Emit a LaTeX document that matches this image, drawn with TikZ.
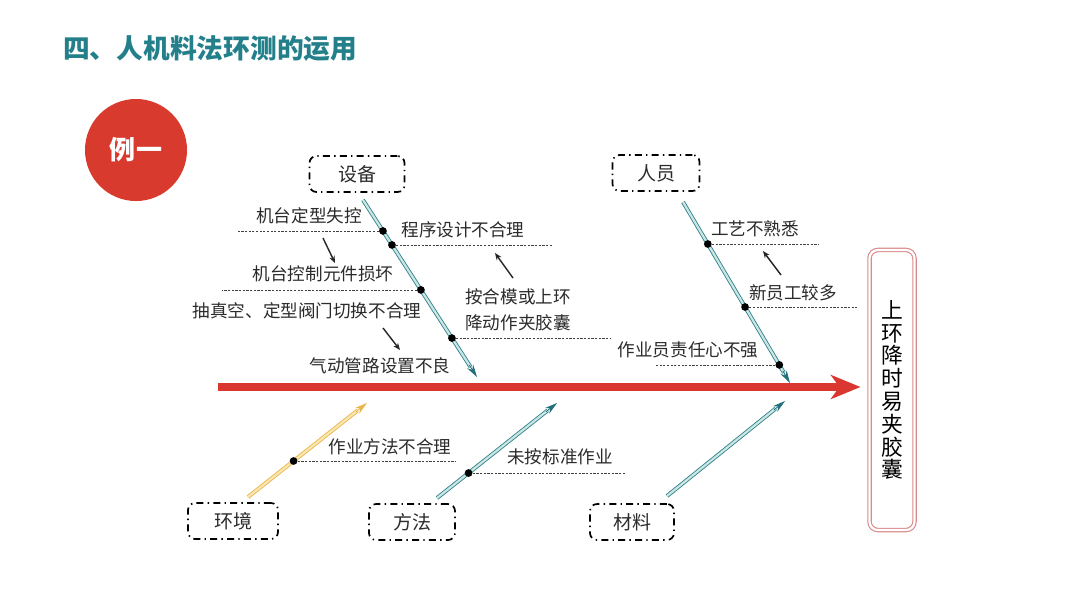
\documentclass[tikz,border=0pt]{standalone}
\usepackage{fontspec}
\setmainfont{Noto Sans CJK SC}
\usetikzlibrary{arrows.meta,calc}
\definecolor{titleteal}{HTML}{23808A}
\definecolor{spinered}{HTML}{D9372F}
\definecolor{circred}{HTML}{D93A2E}
\definecolor{boneteal}{HTML}{2E8088}
\definecolor{bonelight}{HTML}{C9E6E4}
\definecolor{tipteal}{HTML}{22707A}
\definecolor{boneyel}{HTML}{E8B548}
\definecolor{yellight}{HTML}{F9E6B0}
\definecolor{effpink}{HTML}{D98A8A}
\definecolor{txtgray}{HTML}{2B2B2B}
\begin{document}
\begin{tikzpicture}[x=0.025cm,y=-0.025cm,
  cat/.style={draw=black, line width=1.2pt, dash pattern=on 5pt off 3pt on 1pt off 3pt,
    rounded corners=5pt, minimum height=0.9cm, font=\fontsize{13.5}{16}\selectfont, text=txtgray},
  lbl/.style={font=\fontsize{12.5}{18.5}\selectfont, text=txtgray, inner sep=0pt},
  bone/.style={draw=boneteal, line width=0.6pt, double=bonelight, double distance=1.6pt, shorten >=0.3cm},
  boney/.style={draw=boneyel, line width=0.6pt, double=yellight, double distance=1.6pt, shorten >=0.3cm},
  tipt/.style={-{Stealth[length=9pt,width=5pt]}, draw=tipteal, fill=tipteal, line width=0.6pt},
  tipy/.style={-{Stealth[length=9pt,width=5pt]}, draw=boneyel, fill=boneyel, line width=0.6pt},
  dotc/.style={circle, fill=black, inner sep=0pt, minimum size=5.5pt},
  causeline/.style={dash pattern=on 1.6pt off 1pt, line width=0.55pt, draw=black!75},
  sub/.style={-{Stealth[length=5pt,width=4pt]}, line width=1pt, draw=black!85}]
\useasboundingbox (0,0) rectangle (1080,608);
\fill[white] (0,0) rectangle (1080,608);

% title
\node[anchor=west, inner sep=0pt, text=titleteal, font=\fontsize{19}{22}\selectfont\bfseries] (title) at (63,49) {四、人机料法环测的运用};

% example circle
\node[circle, fill=circred, minimum size=2.55cm, inner sep=0pt, text=white, font=\fontsize{18.5}{22}\selectfont\bfseries] (ex) at (136,150) {例一};

% effect box
\node[draw=effpink, line width=0.8pt, double=white, double distance=1.6pt, rounded corners=6pt,
  minimum width=1.125cm, minimum height=7cm, align=center, text=black,
  font=\fontsize{15.5}{16.2}\selectfont] (eff) at (892,390) {上\\环\\降\\时\\易\\夹\\胶\\囊};

% spine
\coordinate (sp) at (218,387);
\draw[spinered, line width=5pt, shorten >=6pt, -{Stealth[length=21pt,width=17pt,inset=6pt]}] (sp) -- (eff.west |- sp);

% category boxes
\node[cat, minimum width=2.375cm] (sb) at (357,174) {设备};
\node[cat, minimum width=2.175cm] (ry) at (656,173) {人员};
\node[cat, minimum width=2.25cm] (hj) at (233,521) {环境};
\node[cat, minimum width=2.15cm] (ff) at (412,522) {方法};
\node[cat, minimum width=2.1cm] (cl) at (632,522) {材料};

% bones
\coordinate (sbS) at (363,200); \coordinate (sbE) at (477,377);
\coordinate (ryS) at (683,202); \coordinate (ryE) at (790,383);
\coordinate (hjS) at (248,497); \coordinate (hjE) at (367,403);
\coordinate (ffS) at (437,498); \coordinate (ffE) at (557,403);
\coordinate (clS) at (667,496); \coordinate (clE) at (785,401);

\draw[bone] (sbS) -- (sbE); \draw[tipt] ($(sbE)!0.35cm!(sbS)$) -- (sbE);
\draw[bone] (ryS) -- (ryE); \draw[tipt] ($(ryE)!0.35cm!(ryS)$) -- (ryE);
\draw[boney] (hjS) -- (hjE); \draw[tipy] ($(hjE)!0.35cm!(hjS)$) -- (hjE);
\draw[bone] (ffS) -- (ffE); \draw[tipt] ($(ffE)!0.35cm!(ffS)$) -- (ffE);
\draw[bone] (clS) -- (clE); \draw[tipt] ($(clE)!0.35cm!(clS)$) -- (clE);

% cause dots
\node[dotc] (d1) at ($(sbS)!0.175!(sbE)$) {};
\node[dotc] (d2) at ($(sbS)!0.254!(sbE)$) {};
\node[dotc] (d3) at ($(sbS)!0.508!(sbE)$) {};
\node[dotc] (d4) at ($(sbS)!0.78!(sbE)$) {};
\node[dotc] (d5) at ($(ryS)!0.232!(ryE)$) {};
\node[dotc] (d6) at ($(ryS)!0.58!(ryE)$) {};
\node[dotc] (d7) at ($(ryS)!0.9!(ryE)$) {};
\node[dotc] (d8) at ($(hjS)!0.383!(hjE)$) {};
\node[dotc] (d9) at ($(ffS)!0.263!(ffE)$) {};

% cause lines
\draw[causeline] (d1) -- (d1 -| 237,0);
\draw[causeline] (d2) -- (d2 -| 553,0);
\draw[causeline] (d3) -- (d3 -| 222,0);
\draw[causeline] (d4) -- (d4 -| 610,0);
\draw[causeline] (d5) -- (d5 -| 819,0);
\draw[causeline] (d6) -- (d6 -| 858,0);
\draw[causeline] (d7) -- (d7 -| 655,0);
\draw[causeline] (d8) -- (d8 -| 456,0);
\draw[causeline] (d9) -- (d9 -| 625,0);

% labels
\node[lbl] (l1) at (309,216) {机台定型失控};
\node[lbl] (l2) at (463,230) {程序设计不合理};
\node[lbl] (l3) at (323,274) {机台控制元件损坏};
\node[lbl, align=center] (l4) at (518,310) {按合模或上环\\降动作夹胶囊};
\node[lbl] (l5) at (307,311) {抽真空、定型阀门切换不合理};
\node[lbl] (l6) at (380,366) {气动管路设置不良};
\node[lbl] (l7) at (755,229) {工艺不熟悉};
\node[lbl] (l8) at (793,293) {新员工较多};
\node[lbl] (l9) at (688,350) {作业员责任心不强};
\node[lbl] (l10) at (390,447) {作业方法不合理};
\node[lbl] (l11) at (560,457) {未按标准作业};

% sub-cause arrows
\coordinate (a1s) at (323,238); \coordinate (a1e) at (335,263);
\coordinate (a2s) at (383,328); \coordinate (a2e) at (400,350);
\coordinate (a3s) at (513,278); \coordinate (a3e) at (495,253);
\coordinate (a4s) at (781,275); \coordinate (a4e) at (763,251);
\draw[sub] (a1s) -- (a1e);
\draw[sub] (a2s) -- (a2e);
\draw[sub] (a3s) -- (a3e);
\draw[sub] (a4s) -- (a4e);
\end{tikzpicture}
\end{document}
